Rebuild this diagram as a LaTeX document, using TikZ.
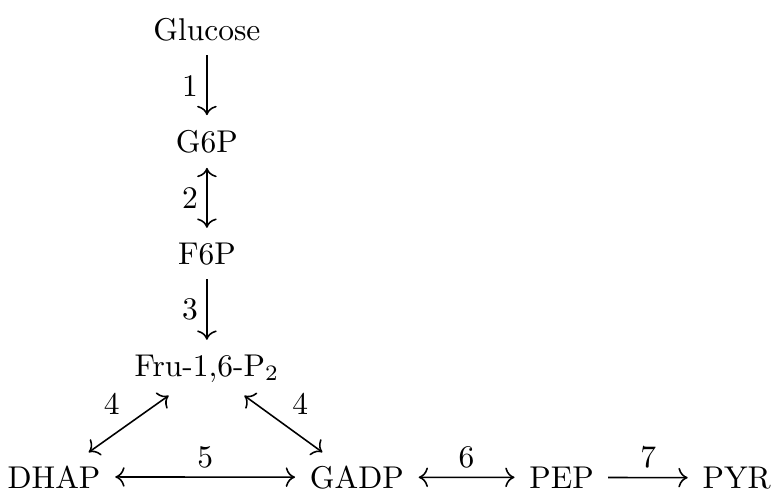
\documentclass[tikz,border=0pt]{standalone}
\usetikzlibrary{arrows.meta, positioning}
\tikzset{
  >={Computer Modern Rightarrow[scale=1.1]},
  metab/.style  = {anchor=base},
  oneway/.style = {->, line width=0.5pt, shorten <=1pt, shorten >=1.2pt},
  twoway/.style = {<->, line width=0.5pt, shorten <=1.2pt, shorten >=1.2pt},
  enz/.style    = {inner sep=2.6pt},
}
\begin{document}
\begin{tikzpicture}
\useasboundingbox (0,0) rectangle (8.63,5.49);
% metabolites
\node[metab] (glc)  at (2.31,5.04)  {Glucose};
\node[metab] (g6p)  at (2.31,3.79)  {G6P};
\node[metab] (f6p)  at (2.31,2.54)  {F6P};
\node[metab] (fbp)  at (2.31,1.29)  {Fru-1,6-P$_2$};
\node[metab] (dhap) at (0.603,0.04) {DHAP};
\node[metab] (gadp) at (3.984,0.04) {GADP};
\node[metab] (pep)  at (6.27,0.04)  {PEP};
\node[metab] (pyr)  at (8.225,0.04) {PYR};
% reactions
\draw[oneway] (glc) -- node[enz, left]  {1} (g6p);
\draw[twoway] (g6p) -- node[enz, left]  {2} (f6p);
\draw[oneway] (f6p) -- node[enz, left]  {3} (fbp);
\draw[twoway] (fbp) -- node[enz, above left]  {4} (dhap);
\draw[twoway] (fbp) -- node[enz, above right] {4} (gadp);
\draw[twoway] (dhap) -- node[enz, above] {5} (gadp);
\draw[twoway] (gadp) -- node[enz, above] {6} (pep);
\draw[oneway] (pep)  -- node[enz, above] {7} (pyr);
\end{tikzpicture}
\end{document}
